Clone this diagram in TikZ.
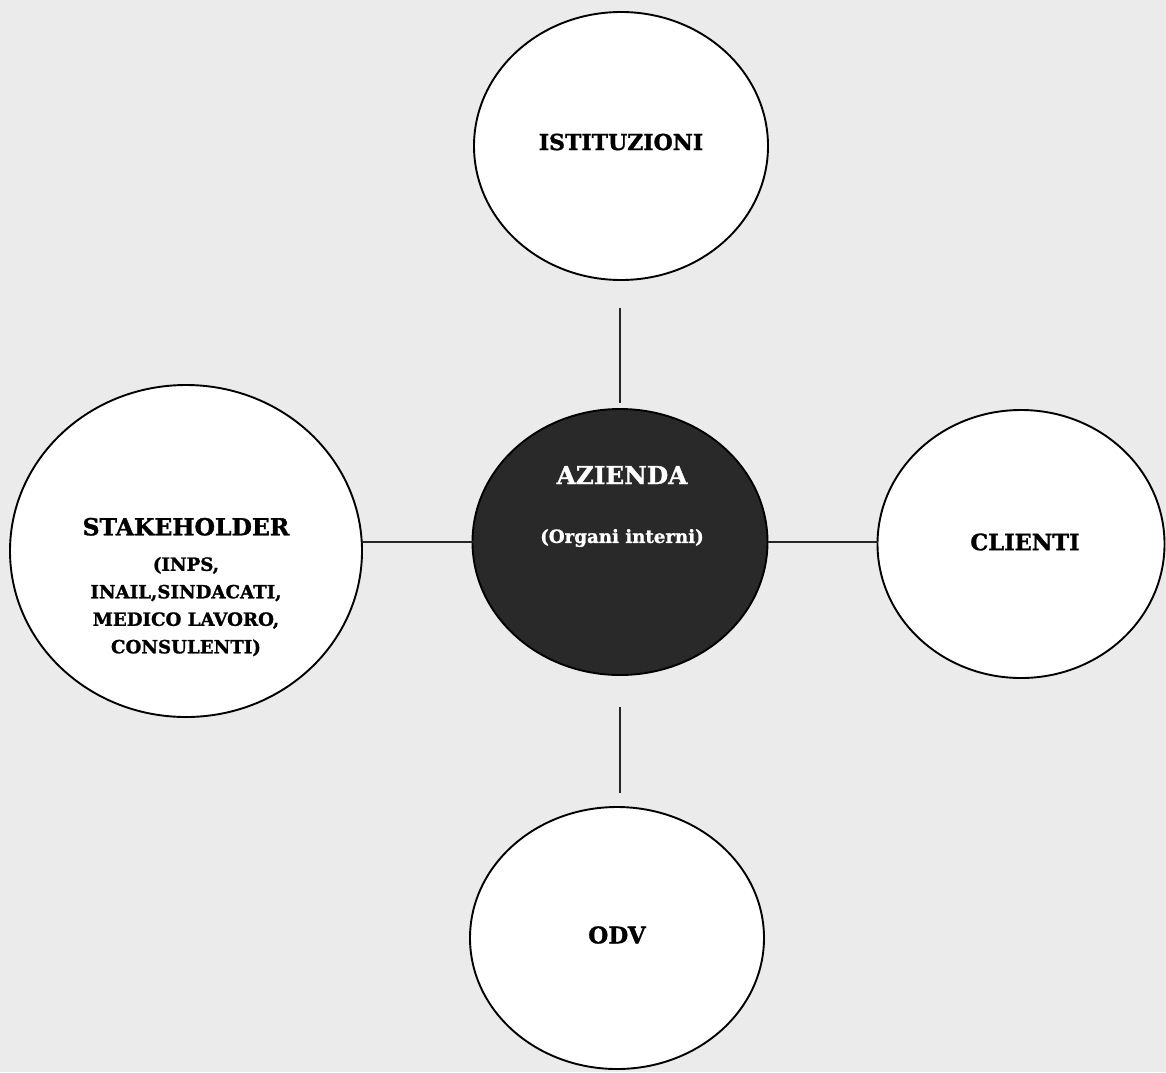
\documentclass[tikz,border=0pt]{standalone}
\usepackage{fontspec}
\setmainfont{DejaVu Serif}[BoldFeatures={FakeBold=1.3}]
\usetikzlibrary{shapes.geometric}
\begin{document}
\begin{tikzpicture}[x=1pt,y=-1pt,
  bubble/.style={ellipse,draw=black,line width=1.9pt,fill=white,inner sep=0pt,outer sep=0pt},
  darkbubble/.style={bubble,fill=black!84},
  link/.style={draw=black!85,line width=1.9pt},
  lbl/.style={inner sep=0pt,font=\bfseries}
]
\useasboundingbox (0,0) rectangle (1166,1072);
\fill[black!8] (0,0) rectangle (1166,1072);

\node[bubble,minimum width=294pt,minimum height=268pt] (ist) at (621,146) {};
\node[darkbubble,minimum width=295pt,minimum height=266pt] (az) at (620,542) {};
\node[bubble,minimum width=352pt,minimum height=332pt] (stake) at (186,551) {};
\node[bubble,minimum width=287pt,minimum height=268pt] (cli) at (1021,544) {};
\node[bubble,minimum width=294pt,minimum height=262pt] (odv) at (617,938) {};

\node[lbl,font=\bfseries\fontsize{22}{26}\selectfont] (istt) at (621,142) {ISTITUZIONI};
\node[lbl,text=white,font=\bfseries\fontsize{24.7}{28}\selectfont] (azt) at (622,475) {AZIENDA};
\node[lbl,text=white,font=\bfseries\fontsize{18.2}{22}\selectfont] (azs) at (622,538) {(Organi interni)};
\node[lbl,align=center,font=\bfseries\fontsize{18.2}{27.5}\selectfont] (stt) at (186,587)
  {{\fontsize{23.5}{27}\selectfont STAKEHOLDER}\\[8pt]
   (INPS,\\ INAIL,SINDACATI,\\ MEDICO LAVORO,\\ CONSULENTI)};
\node[lbl,font=\bfseries\fontsize{22.5}{26}\selectfont] (clit) at (1025,542) {CLIENTI};
\node[lbl,font=\bfseries\fontsize{23}{27}\selectfont] (odvt) at (617,935) {ODV};

\draw[link,shorten <=28pt,shorten >=6pt] (az.north |- ist.south) -- (az.north);
\draw[link] (az.west) -- (az.west -| stake.east);
\draw[link] (az.east) -- (az.east -| cli.west);
\draw[link,shorten <=32pt,shorten >=14pt] (az.south) -- (az.south |- odv.north);
\end{tikzpicture}
\end{document}
